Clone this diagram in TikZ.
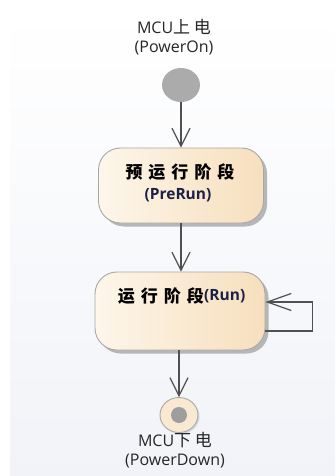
\documentclass[tikz,border=0pt]{standalone}
\usepackage{fontspec}
\setmainfont{Open Sans}
\newfontfamily\cjk{Noto Sans CJK SC}
\usetikzlibrary{arrows.meta,shadows,positioning,shapes.geometric}
\definecolor{bgbot}{HTML}{F1F3F8}
\definecolor{boxl}{HTML}{FDF6EA}
\definecolor{boxr}{HTML}{F7DFBD}
\definecolor{edge}{HTML}{A8A8A8}
\definecolor{linec}{HTML}{505050}
\definecolor{navy}{HTML}{1C2048}
\newcommand{\cg}{\hspace{6pt}}
\newcommand{\lcjk}[1]{{\cjk\fontsize{17}{19}\selectfont #1}}
\tikzset{
  stbox/.style={draw=edge, line width=0.9pt, rounded corners=22pt,
    left color=boxl, right color=boxr,
    drop shadow={shadow xshift=3.5pt, shadow yshift=-3.5pt, fill=black!35, opacity=0.8}},
  cjktxt/.style={inner sep=0pt, font=\cjk\bfseries\fontsize{17}{20}\selectfont},
  entxt/.style={inner sep=0pt, text=navy, font=\bfseries\fontsize{15.5}{19}\selectfont},
  lbl/.style={align=center, inner sep=0pt, font=\fontsize{16}{19}\selectfont, text=black!85},
  arr/.style={draw=linec, line width=1.2pt, -{Straight Barb[length=18pt,width=18pt,line width=1.2pt]}},
  looparr/.style={draw=linec, line width=1.2pt, -{Straight Barb[length=24pt,width=17pt,line width=1.2pt]}},
}
\begin{document}
\begin{tikzpicture}[x=1pt,y=-1pt]
\useasboundingbox (0,0) rectangle (335,476);
\fill[top color=white, bottom color=bgbot] (10,10) rectangle (335,476);
% start label and initial node
\node[lbl] (onlbl) at (174,37) {MCU\lcjk{上 电}\\(PowerOn)};
\node[draw=none, fill=black!33, ellipse, minimum width=38pt, minimum height=34pt, inner sep=0pt] (init) at (181,85) {};
% PreRun state
\node[stbox, minimum width=165pt, minimum height=75pt] (pre) at (181,185.5) {};
\node[cjktxt] (pretxt) at (180,172) {预\cg 运\cg 行\cg 阶\cg 段};
\node[entxt] (preen) at (178,195) {(PreRun)};
% Run state
\node[stbox, minimum width=170pt, minimum height=78pt] (run) at (180,311) {};
\node[cjktxt, anchor=east] (runtxt) at (204,296) {运\cg 行\cg 阶\cg 段};
\node[entxt, anchor=west] (runen) at (runtxt.east) {(Run)};
% final node
\node[draw=edge, line width=0.9pt, fill=boxr!70!white, ellipse, minimum width=38pt, minimum height=35pt, inner sep=0pt,
  drop shadow={shadow xshift=1.5pt, shadow yshift=-1.5pt, fill=black!25}] (fin) at (179,415) {};
\node[circle, fill=black!38, minimum size=16pt, inner sep=0pt] (fininner) at (fin.center) {};
\node[lbl] (offlbl) at (175,450) {MCU\lcjk{下 电}\\(PowerDown)};
% connectors
\draw[arr] (init.south) -- (init.south |- pre.north);
\draw[arr] (init.south |- pre.south) -- (init.south |- run.north);
\draw[arr] (fin.north |- run.south) -- (fin.north);
\draw[looparr] ([yshift=-20pt]run.east) -- ++(47,0) |- ([yshift=9pt]run.east);
\end{tikzpicture}
\end{document}
